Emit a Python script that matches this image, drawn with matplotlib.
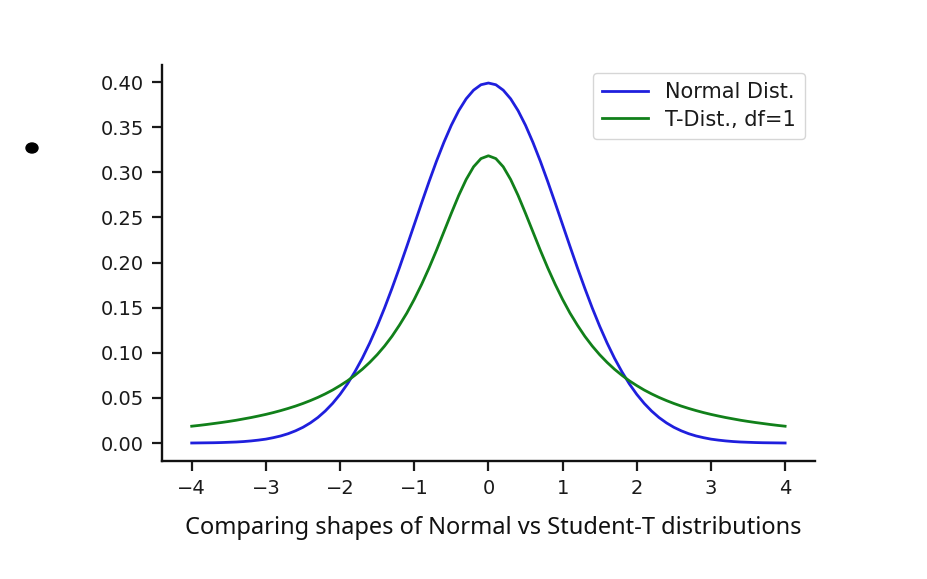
import matplotlib
matplotlib.use("Agg")
import matplotlib.pyplot as plt
from matplotlib.patches import Ellipse

# values, x from -4 to 4 every 0.1
x_vals = [round(-4 + 0.1 * i, 1) for i in range(81)]
normal_vals = [0.0001, 0.0002, 0.0003, 0.0004, 0.0006, 0.0009, 0.0012, 0.0017, 0.0024, 0.0033,
               0.0044, 0.0060, 0.0079, 0.0104, 0.0136, 0.0175, 0.0224, 0.0283, 0.0355, 0.0440,
               0.0540, 0.0656, 0.0790, 0.0940, 0.1109, 0.1295, 0.1497, 0.1714, 0.1942, 0.2179,
               0.2420, 0.2661, 0.2897, 0.3123, 0.3332, 0.3521, 0.3683, 0.3814, 0.3910, 0.3970,
               0.3989,
               0.3970, 0.3910, 0.3814, 0.3683, 0.3521, 0.3332, 0.3123, 0.2897, 0.2661, 0.2420,
               0.2179, 0.1942, 0.1714, 0.1497, 0.1295, 0.1109, 0.0940, 0.0790, 0.0656, 0.0540,
               0.0440, 0.0355, 0.0283, 0.0224, 0.0175, 0.0136, 0.0104, 0.0079, 0.0060, 0.0044,
               0.0033, 0.0024, 0.0017, 0.0012, 0.0009, 0.0006, 0.0004, 0.0003, 0.0002, 0.0001]
t_vals = [0.0187, 0.0196, 0.0206, 0.0217, 0.0228, 0.0240, 0.0253, 0.0268, 0.0283, 0.0300,
          0.0318, 0.0338, 0.0360, 0.0384, 0.0410, 0.0439, 0.0471, 0.0506, 0.0545, 0.0588,
          0.0637, 0.0690, 0.0751, 0.0818, 0.0894, 0.0979, 0.1075, 0.1183, 0.1306, 0.1440,
          0.1592, 0.1759, 0.1941, 0.2136, 0.2341, 0.2546, 0.2744, 0.2920, 0.3061, 0.3152,
          0.3183,
          0.3152, 0.3061, 0.2920, 0.2744, 0.2546, 0.2341, 0.2136, 0.1941, 0.1759, 0.1592,
          0.1440, 0.1306, 0.1183, 0.1075, 0.0979, 0.0894, 0.0818, 0.0751, 0.0690, 0.0637,
          0.0588, 0.0545, 0.0506, 0.0471, 0.0439, 0.0410, 0.0384, 0.0360, 0.0338, 0.0318,
          0.0300, 0.0283, 0.0268, 0.0253, 0.0240, 0.0228, 0.0217, 0.0206, 0.0196, 0.0187]

caption = "Comparing shapes of Normal vs Student-T distributions"

plt.rcParams['font.family'] = ['DejaVu Sans']

fig = plt.figure(figsize=(9.28, 5.79), dpi=100)
ax = fig.add_axes([0.1746, 0.2038, 0.7034, 0.6839])

ax.plot(x_vals, normal_vals, color="#1f1fdd", lw=2.0, label="Normal Dist.")
ax.plot(x_vals, t_vals, color="#11801a", lw=2.0, label="T-Dist., df=1")

ax.set_xticks([-4, -3, -2, -1, 0, 1, 2, 3, 4])
ax.set_yticks([0.0, 0.05, 0.10, 0.15, 0.20, 0.25, 0.30, 0.35, 0.40])
ax.set_yticklabels(["%.2f" % v for v in ax.get_yticks()])
ax.tick_params(labelsize=14, length=7.5, width=1.6, pad=5.5, colors="#1a1a1a")

for s in ["top", "right"]:
    ax.spines[s].set_visible(False)
for s in ["left", "bottom"]:
    ax.spines[s].set_linewidth(1.7)
    ax.spines[s].set_color("#111111")

leg = ax.legend(loc="upper right", fontsize=15, frameon=True, handlelength=2.2,
                borderpad=0.45, borderaxespad=0, labelspacing=0.35,
                bbox_to_anchor=(1.0 - 10/653, 1.0 - 8/396))
for t in leg.get_texts():
    t.set_color("#1a1a1a")

fig.text(0.532, 0.088, caption, ha="center", va="center",
         fontsize=17, family="Noto Sans", color="#111111")

# stray ink dot on the left
fig.add_artist(Ellipse((32/928, 1 - 148/579), 12/928, 10/579,
                       transform=fig.transFigure, color="black"))

fig.savefig("out.png", dpi=100, facecolor="white")
